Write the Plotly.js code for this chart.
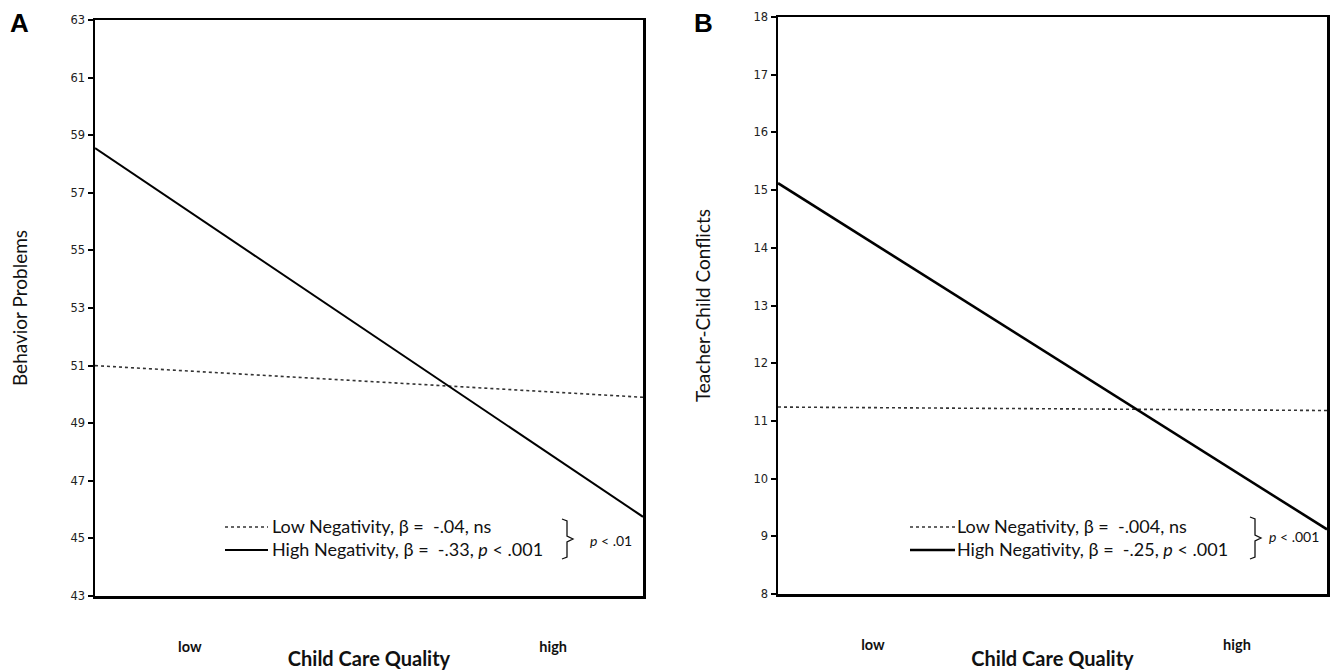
<!DOCTYPE html>
<html>
<head>
<meta charset="utf-8">
<script src="https://cdn.plot.ly/plotly-3.0.1.min.js"></script>
<style>html,body{margin:0;padding:0;background:#fff;}#chart{width:1332px;height:670px;}</style>
</head>
<body>
<div id="chart"></div>
<script>
// ---- data ----
const xCategories = ["low", "high"];
const xPositions = [0, 1];
const tickPositions = [0.173, 0.836];

const panelALow = [51.0, 49.9];
const panelAHigh = [58.55, 45.75];
const panelBLow = [11.24, 11.18];
const panelBHigh = [15.12, 9.12];

const panelANames = ["Low Negativity, β =  -.04, ns", "High Negativity, β =  -.33, <i>p</i> < .001"];
const panelBNames = ["Low Negativity, β =  -.004, ns", "High Negativity, β =  -.25, <i>p</i> < .001"];
const panelAInteraction = "<i>p</i> < .01";
const panelBInteraction = "<i>p</i> < .001";

const panelATicks = [43, 45, 47, 49, 51, 53, 55, 57, 59, 61, 63];
const panelBTicks = [8, 9, 10, 11, 12, 13, 14, 15, 16, 17, 18];

// ---- layout helpers ----
const W = 1332, H = 670;
const fx = v => v / W;
const fy = v => 1 - v / H;
const FONT = "Lato, 'Open Sans', sans-serif";

const lowStyle = {color: "#333", width: 1.6, dash: "dot"};
const highStyleA = {color: "#000", width: 2};
const highStyleB = {color: "#000", width: 2.6};

const traces = [
  {x: xPositions, y: panelALow, name: panelANames[0], mode: "lines", xaxis: "x", yaxis: "y", line: lowStyle},
  {x: xPositions, y: panelAHigh, name: panelANames[1], mode: "lines", xaxis: "x", yaxis: "y", line: highStyleA},
  {x: xPositions, y: panelBLow, name: panelBNames[0], mode: "lines", xaxis: "x2", yaxis: "y2", line: lowStyle},
  {x: xPositions, y: panelBHigh, name: panelBNames[1], mode: "lines", xaxis: "x2", yaxis: "y2", line: highStyleB}
];

function xax(domain, anchor) {
  return {
    domain: domain, anchor: anchor, range: [0, 1], showgrid: false, zeroline: false,
    showline: true, linecolor: "#000", linewidth: 2.5, mirror: true,
    tickmode: "array", tickvals: tickPositions, ticktext: xCategories,
    ticks: "outside", ticklen: 36, tickcolor: "rgba(0,0,0,0)",
    tickfont: {family: FONT, size: 14.5, color: "#111", weight: "bold"},
    title: {text: "<b>Child Care Quality</b>", font: {family: FONT, size: 20, color: "#111"}, standoff: 1},
    fixedrange: true
  };
}
function yax(domain, anchor, range, ticks, title) {
  return {
    domain: domain, anchor: anchor, range: range, showgrid: false, zeroline: false,
    showline: true, linecolor: "#000", linewidth: 2.5, mirror: true,
    tickmode: "array", tickvals: ticks,
    ticks: "outside", ticklen: 5, tickwidth: 2, tickcolor: "#000",
    tickfont: {family: "'DejaVu Sans', sans-serif", size: 11.5, color: "#222"},
    title: {text: title, font: {family: FONT, size: 19, color: "#111"}, standoff: 38},
    fixedrange: true
  };
}

function brace(x, yTop, yBot) {
  const ym = (yTop + yBot) / 2;
  const p = (a, b) => fx(a) + "," + fy(b);
  return {
    type: "path", xref: "paper", yref: "paper",
    path: "M" + p(x, yTop) + " L" + p(x + 5, yTop + 2) + " L" + p(x + 5, ym - 3) + " L" + p(x + 11, ym) +
          " L" + p(x + 5, ym + 3) + " L" + p(x + 5, yBot - 2) + " L" + p(x, yBot),
    line: {color: "#111", width: 1.3}
  };
}
function sample(x0, x1, y, style) {
  return {type: "line", xref: "paper", yref: "paper", x0: fx(x0), x1: fx(x1), y0: fy(y), y1: fy(y),
          line: {color: style.color, width: style.width, dash: style.dash || "solid"}};
}
function label(text, x, y, size) {
  return {text: text, x: fx(x), y: fy(y), xref: "paper", yref: "paper", xanchor: "left", yanchor: "middle",
          showarrow: false, font: {family: FONT, size: size, color: "#111"}};
}

const layout = {
  width: W, height: H,
  margin: {l: 0, r: 0, t: 0, b: 0},
  paper_bgcolor: "#fff", plot_bgcolor: "#fff",
  showlegend: false,
  xaxis: xax([fx(95), fx(643)], "y"),
  yaxis: yax([fy(596), fy(20)], "x", [43, 63], panelATicks, "Behavior Problems"),
  xaxis2: xax([fx(778), fx(1327)], "y2"),
  yaxis2: yax([fy(594), fy(17)], "x2", [8, 18], panelBTicks, "Teacher-Child Conflicts"),
  shapes: [
    sample(225, 268, 527, lowStyle), sample(225, 268, 550, highStyleA),
    sample(910, 955, 527, lowStyle), sample(910, 955, 550, highStyleB),
    brace(562, 519, 559), brace(1250, 517, 559)
  ],
  annotations: [
    {text: "<b>A</b>", x: fx(8), y: fy(6), xref: "paper", yref: "paper", xanchor: "left", yanchor: "top",
     showarrow: false, font: {family: "'Liberation Sans', Arial, sans-serif", size: 26, color: "#000"}},
    {text: "<b>B</b>", x: fx(692), y: fy(6), xref: "paper", yref: "paper", xanchor: "left", yanchor: "top",
     showarrow: false, font: {family: "'Liberation Sans', Arial, sans-serif", size: 26, color: "#000"}},
    label(panelANames[0], 270, 526, 18), label(panelANames[1], 270, 549, 18),
    label(panelBNames[0], 955, 526, 18), label(panelBNames[1], 955, 549, 18),
    label(panelAInteraction, 588, 540, 14),
    label(panelBInteraction, 1267, 536, 14)
  ]
};

Plotly.newPlot("chart", traces, layout, {displayModeBar: false, staticPlot: true});
</script>
</body>
</html>
